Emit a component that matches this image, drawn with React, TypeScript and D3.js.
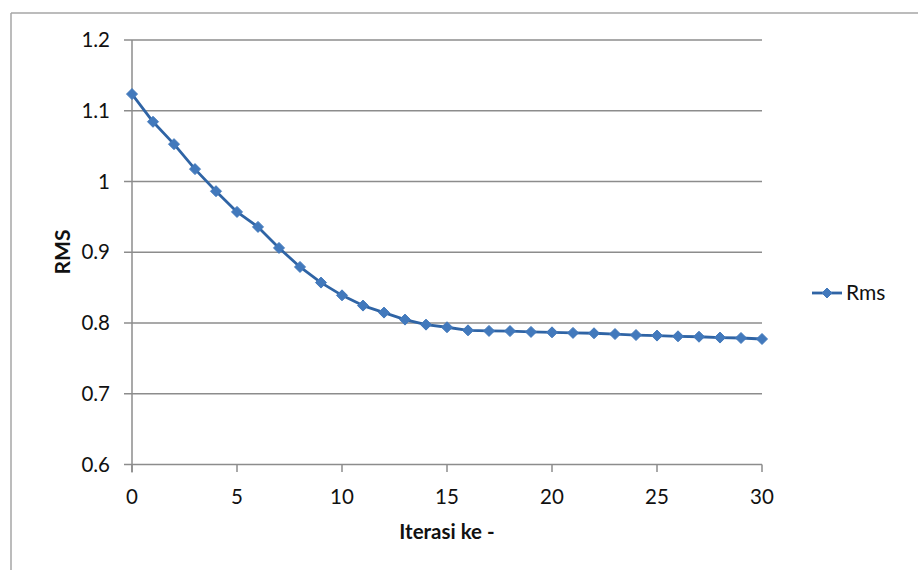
import React from "react";
import * as d3 from "d3";

const iterations = d3.range(0, 31);
const rmsValues = [
  1.1236, 1.0844, 1.0528, 1.0175, 0.9863, 0.957, 0.9358, 0.9061, 0.8792, 0.8571,
  0.8391, 0.8246, 0.8147, 0.8048, 0.7977, 0.7940, 0.7896, 0.7888, 0.7886, 0.7874,
  0.7868, 0.7860, 0.7855, 0.7844, 0.7830, 0.7822, 0.7812, 0.7806, 0.7794, 0.7788,
  0.7774,
];
const yTicks = [0.6, 0.7, 0.8, 0.9, 1, 1.1, 1.2];
const xTicks = [0, 5, 10, 15, 20, 25, 30];
const seriesName = "Rms";
const xTitle = "Iterasi ke -";
const yTitle = "RMS";

const W = 918;
const H = 570;
const left = 132;
const right = 762;
const top = 40;
const bottom = 464.5;
const font = "Lato, 'Open Sans', sans-serif";
const lineColor = "#2F64A5";
const markerColor = "#4279BC";
const gridColor = "#8C8C8C";

export default function App() {
  const x = d3.scaleLinear().domain([0, 30]).range([left, right]);
  const y = d3.scaleLinear().domain([0.6, 1.2]).range([bottom, top]);
  const line = d3
    .line<number>()
    .x((_, i) => x(iterations[i]))
    .y((d) => y(d));
  const diamond = (cx: number, cy: number, r: number) =>
    `M${cx},${cy - r}L${cx + r},${cy}L${cx},${cy + r}L${cx - r},${cy}Z`;

  return (
    <svg
      width={W}
      height={H}
      style={{ position: "absolute", left: 0, top: 0, background: "#fff" }}
    >
      <rect x={0} y={0} width={W} height={H} fill="#fff" />
      {/* outer frame (top and left visible) */}
      <line x1={11} y1={13} x2={W} y2={13} stroke="#A6A6A6" strokeWidth={1.5} />
      <line x1={11} y1={13} x2={11} y2={H} stroke="#A6A6A6" strokeWidth={1.5} />

      {/* gridlines */}
      {yTicks.map((t) => (
        <line
          key={"g" + t}
          x1={left - 8}
          x2={right}
          y1={y(t)}
          y2={y(t)}
          stroke={gridColor}
          strokeWidth={1.5}
        />
      ))}
      {/* y axis */}
      <line x1={left} x2={left} y1={top} y2={bottom + 8} stroke={gridColor} strokeWidth={1.5} />
      {/* x ticks */}
      {xTicks.map((t) => (
        <line
          key={"xt" + t}
          x1={x(t)}
          x2={x(t)}
          y1={bottom}
          y2={bottom + 7.5}
          stroke={gridColor}
          strokeWidth={1.5}
        />
      ))}
      {/* y labels */}
      {yTicks.map((t) => (
        <text
          key={"yl" + t}
          x={110}
          y={y(t)}
          dy="0.35em"
          textAnchor="end"
          fontFamily={font}
          fontSize={20.5}
          fill="#111"
        >
          {String(t)}
        </text>
      ))}
      {/* x labels */}
      {xTicks.map((t) => (
        <text
          key={"xl" + t}
          x={x(t)}
          y={504}
          textAnchor="middle"
          fontFamily={font}
          fontSize={20.5}
          fill="#111"
        >
          {String(t)}
        </text>
      ))}
      {/* titles */}
      <text
        x={447}
        y={539}
        textAnchor="middle"
        fontFamily={font}
        fontWeight="bold"
        fontSize={20.5}
        fill="#111"
      >
        {xTitle}
      </text>
      <text
        transform={`translate(70,252) rotate(-90)`}
        textAnchor="middle"
        fontFamily={font}
        fontWeight="bold"
        fontSize={21}
        fill="#111"
      >
        {yTitle}
      </text>

      {/* series */}
      <path d={line(rmsValues) || ""} fill="none" stroke={lineColor} strokeWidth={2.8} strokeLinejoin="round" />
      {rmsValues.map((v, i) => (
        <path key={"m" + i} d={diamond(x(iterations[i]), y(v), 5.5)} fill={markerColor} stroke={markerColor} strokeWidth={1} />
      ))}

      {/* legend */}
      <line x1={812} x2={842} y1={293} y2={293} stroke={lineColor} strokeWidth={2.8} />
      <path d={diamond(827, 293, 5)} fill={markerColor} stroke={markerColor} strokeWidth={1} />
      <text x={846} y={293} dy="0.35em" fontFamily={font} fontSize={21} fill="#111">
        {seriesName}
      </text>
    </svg>
  );
}
